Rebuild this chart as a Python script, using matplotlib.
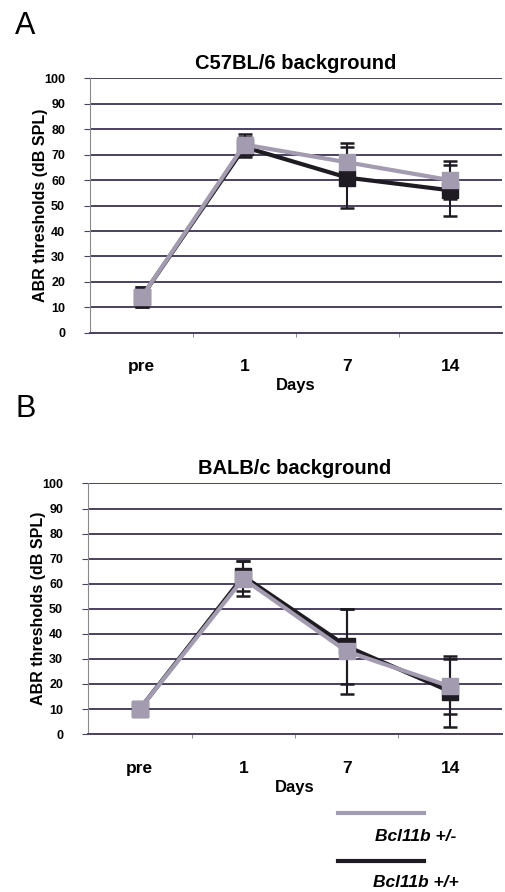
"""ABR thresholds after noise exposure, Bcl11b +/- vs +/+ on two backgrounds."""
import numpy as np
import matplotlib

matplotlib.use("Agg")
import matplotlib.pyplot as plt
from matplotlib.lines import Line2D

plt.rcParams["font.family"] = ["Liberation Sans", "DejaVu Sans"]

days = ["pre", "1", "7", "14"]
y_ticks = [0, 10, 20, 30, 40, 50, 60, 70, 80, 90, 100]

# panel A: C57BL/6
c57_het = [14, 74, 67, 60]
c57_het_err = [4, 4, 7.5, 7.5]
c57_wt = [14, 73, 61, 56]
c57_wt_err = [4, 4, 12, 10]

# panel B: BALB/c
balb_het = [10, 62, 33, 19]
balb_het_err = [1, 7, 17, 11]
balb_wt = [10, 63, 35, 17]
balb_wt_err = [1, 6, 15, 14]

GRAY = "#a39bb0"
BLACK = "#1e1c22"
GRID = "#4b4160"


def draw_panel(ax, title, het, het_err, wt, wt_err):
    x = np.arange(len(days))
    ax.errorbar(x, wt, yerr=wt_err, color=BLACK, lw=3, marker="s", ms=11,
                mfc=BLACK, mec=BLACK, ecolor=BLACK, elinewidth=1.5,
                capsize=5, capthick=1.8, zorder=3)
    ax.errorbar(x, het, yerr=het_err, color=GRAY, lw=3, marker="s", ms=11,
                mfc=GRAY, mec=GRAY, ecolor=BLACK, elinewidth=1.5,
                capsize=5, capthick=1.8, zorder=4)
    ax.set_xlim(-0.5, len(days) - 0.5)
    ax.set_ylim(0, 100)
    ax.set_yticks(y_ticks)
    ax.set_yticklabels([str(v) for v in y_ticks], fontsize=9, fontweight="bold")
    ax.set_xticks(x)
    ax.set_xticklabels(days, fontsize=12.5, fontweight="bold")
    ax.set_xticks(np.arange(0.5, len(days) - 1), minor=True)
    ax.tick_params(axis="x", which="major", length=0, pad=19)
    ax.tick_params(axis="x", which="minor", length=3, color="#777777")
    ax.tick_params(axis="y", length=4, color=GRID, pad=14)
    ax.grid(axis="y", color=GRID, lw=1.4, zorder=1)
    for s in ("top", "right"):
        ax.spines[s].set_visible(False)
    ax.spines["left"].set_color("#8a8a8a")
    ax.spines["bottom"].set_color(GRID)
    ax.spines["bottom"].set_linewidth(1.4)
    ax.set_title(title, fontsize=14.5, fontweight="bold", pad=7)
    ax.set_xlabel("Days", fontsize=12, fontweight="bold", labelpad=3)
    ax.set_ylabel("ABR thresholds (dB SPL)", fontsize=11.5, fontweight="bold", labelpad=-3)


fig = plt.figure(figsize=(5.06, 8.92), dpi=100)
ax_a = fig.add_axes([0.178, 0.627, 0.814, 0.285])
ax_b = fig.add_axes([0.174, 0.177, 0.818, 0.281])
draw_panel(ax_a, "C57BL/6 background", c57_het, c57_het_err, c57_wt, c57_wt_err)
draw_panel(ax_b, "BALB/c background", balb_het, balb_het_err, balb_wt, balb_wt_err)

fig.text(0.03, 0.988, "A", fontsize=22, va="top", ha="left")
fig.text(0.03, 0.558, "B", fontsize=22, va="top", ha="left")

# legend drawn by hand: line above each label
fig.add_artist(Line2D([0.668, 0.838], [0.0886, 0.0886], color=GRAY, lw=3))
fig.text(0.822, 0.0617, "Bcl11b +/-", fontsize=12.5, fontweight="bold",
         style="italic", ha="center", va="center")
fig.add_artist(Line2D([0.668, 0.838], [0.0348, 0.0348], color=BLACK, lw=3))
fig.text(0.822, 0.0112, "Bcl11b +/+", fontsize=12.5, fontweight="bold",
         style="italic", ha="center", va="center")

fig.savefig("out.png", dpi=100, facecolor="white")
plt.close(fig)
